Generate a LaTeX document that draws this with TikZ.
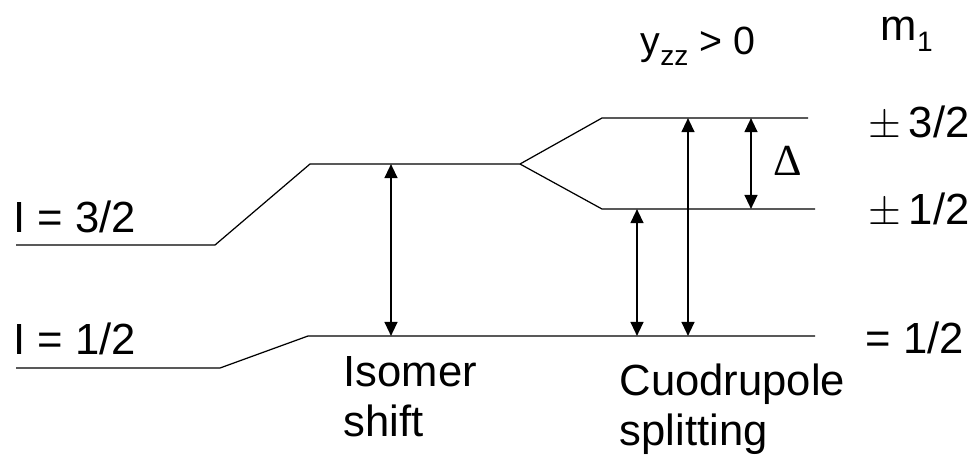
\documentclass[tikz,border=0pt]{standalone}
\usepackage{fontspec}
\setmainfont{Liberation Sans}
\newfontfamily\deltafont{Liberation Serif}
\usetikzlibrary{arrows.meta}
\newcommand{\pedice}[1]{\raisebox{-3.2pt}{\fontsize{8}{8}\selectfont #1}}
\tikzset{
  livello/.style={line width=0.35pt},
  freccia/.style={line width=0.65pt,
    {Triangle[length=4pt,width=3.6pt]}-{Triangle[length=4pt,width=3.6pt]}},
  etichetta/.style={inner sep=0pt, font=\fontsize{12.4}{14.2}\selectfont},
  titoletto/.style={inner sep=0pt, font=\fontsize{11.2}{13}\selectfont},
}
\begin{document}
\begin{tikzpicture}[x=0.01cm,y=-0.01cm]
  \useasboundingbox (0,0) rectangle (969,460);
  % livello I = 3/2
  \coordinate (e0) at (16,245);  \coordinate (e1) at (215,245);
  \coordinate (e2) at (310,164); \coordinate (e3) at (520,164);
  \coordinate (p1) at (602,118); \coordinate (p2) at (808,118);
  \coordinate (q1) at (602,209); \coordinate (q2) at (815,209);
  \draw[livello] (e0) -- (e1) -- (e2) -- (e3) -- (p1) -- (p2);
  \draw[livello] (e3) -- (q1) -- (q2);
  % livello I = 1/2
  \coordinate (g0) at (16,368);  \coordinate (g1) at (220,368);
  \coordinate (g2) at (308,336); \coordinate (g3) at (815,336);
  \draw[livello] (g0) -- (g1) -- (g2) -- (g3);
  % frecce
  \coordinate (is1) at (391,164); \coordinate (is2) at (391,336);
  \coordinate (qa1) at (637,209); \coordinate (qa2) at (637,336);
  \coordinate (qb1) at (688,118); \coordinate (qb2) at (688,336);
  \coordinate (d1) at (751,118);  \coordinate (d2) at (751,209);
  \draw[freccia] (is1) -- (is2);
  \draw[freccia] (qa1) -- (qa2);
  \draw[freccia] (qb1) -- (qb2);
  \draw[freccia] (d1) -- (d2);
  % etichette
  \node[etichetta, anchor=base west] (l32) at (13,232) {I = 3/2};
  \node[etichetta, anchor=base west] (l12) at (13,354) {I = 1/2};
  \node[etichetta, anchor=base west] (m32) at (868,137) {$\pm$\,3/2};
  \node[etichetta, anchor=base west] (m12) at (868,224) {$\pm$\,1/2};
  \node[etichetta, anchor=base west] (m00) at (865,353) {= 1/2};
  \node[inner sep=0pt, font=\deltafont\fontsize{12.6}{14}\selectfont] (delta) at (788,160.5) {Δ};
  \node[titoletto, anchor=base west] (vzz) at (640,54) {y\pedice{zz} > 0};
  \node[etichetta, anchor=base west] (mi) at (880,40) {m\pedice{1}};
  \node[etichetta, anchor=north west, align=left] (iso) at (343,356) {Isomer\\shift};
  \node[etichetta, anchor=north west, align=left] (cuo) at (619,363) {Cuodrupole\\splitting};
\end{tikzpicture}
\end{document}
